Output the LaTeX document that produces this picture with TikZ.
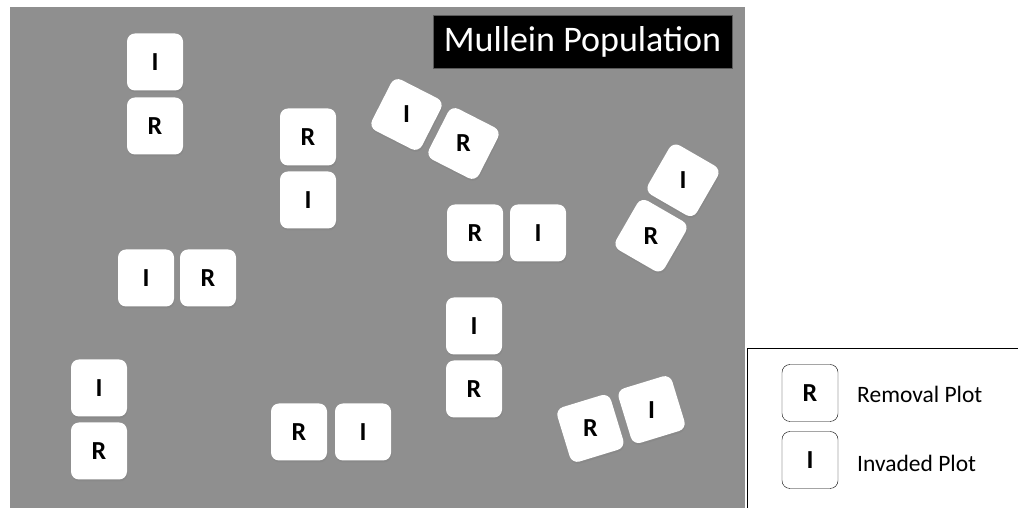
\documentclass[tikz,border=0pt]{standalone}
\usepackage{fontspec}
\setmainfont{Carlito}
\usetikzlibrary{positioning,shadows}

\begin{document}
\begin{tikzpicture}[
  x=1pt, y=1pt,
  plotnode/.style={rectangle, rounded corners=8pt, fill=white, minimum width=56pt, minimum height=57pt, inner sep=0pt,
    font=\fontsize{26}{28}\selectfont\bfseries,
    drop shadow={opacity=0.35, shadow xshift=0.6pt, shadow yshift=-2pt}},
  keynode/.style={rectangle, rounded corners=8pt, draw=black, fill=white, minimum width=56pt, minimum height=57pt, inner sep=0pt,
    font=\fontsize{26}{28}\selectfont\bfseries},
  keylabel/.style={anchor=west, inner sep=0pt, font=\fontsize{23.5}{25}\selectfont}
]
  \useasboundingbox (0,0) rectangle (1018,508);
  \fill[fill={rgb,255:red,143;green,143;blue,143}] (10,0) rectangle (745,501);

  % title
  \node[draw={rgb,255:red,90;green,90;blue,90}, fill=black, text=white, minimum width=299pt, minimum height=53pt,
    inner sep=0pt, font=\fontsize{36}{40}\selectfont] (title) at (582.5,466.5) {Mullein Population};

  % plot pairs (letters stay upright on tilted plots)
  \node[plotnode] (i1) at (155,446) {I};
  \node[plotnode] (r1) at (155,382) {R};
  \node[plotnode] (r2) at (308,371) {R};
  \node[plotnode] (i2) at (308,308) {I};
  \node[plotnode, rotate=-27] (i3) at (406.5,393.5) {\rotatebox{27}{I}};
  \node[plotnode, rotate=-27] (r3) at (463.5,364.5) {\rotatebox{27}{R}};
  \node[plotnode] (r4) at (475,275) {R};
  \node[plotnode] (i4) at (538,275) {I};
  \node[plotnode, rotate=-30] (i5) at (683,327.7) {\rotatebox{30}{I}};
  \node[plotnode, rotate=-30] (r5) at (651,272.3) {\rotatebox{30}{R}};
  \node[plotnode] (i6) at (146,230) {I};
  \node[plotnode] (r6) at (208,230) {R};
  \node[plotnode] (i7) at (474,182) {I};
  \node[plotnode] (r7) at (474,119) {R};
  \node[plotnode] (i8) at (99,120) {I};
  \node[plotnode] (r8) at (99,57) {R};
  \node[plotnode] (r9) at (299,76) {R};
  \node[plotnode] (i9) at (363,76) {I};
  \node[plotnode, rotate=17] (r10) at (590.4,79.6) {\rotatebox{-17}{R}};
  \node[plotnode, rotate=17] (i10) at (651.6,98.4) {\rotatebox{-17}{I}};

  % legend
  \draw[black, line width=0.8pt] (747,-1) rectangle (1019,160);
  \node[keynode] (keyr) at (810,115) {R};
  \node[keynode] (keyi) at (810,48) {I};
  \node[keylabel] (keyrtext) at (857,114) {Removal Plot};
  \node[keylabel] (keyitext) at (857,45) {Invaded Plot};
\end{tikzpicture}
\end{document}
